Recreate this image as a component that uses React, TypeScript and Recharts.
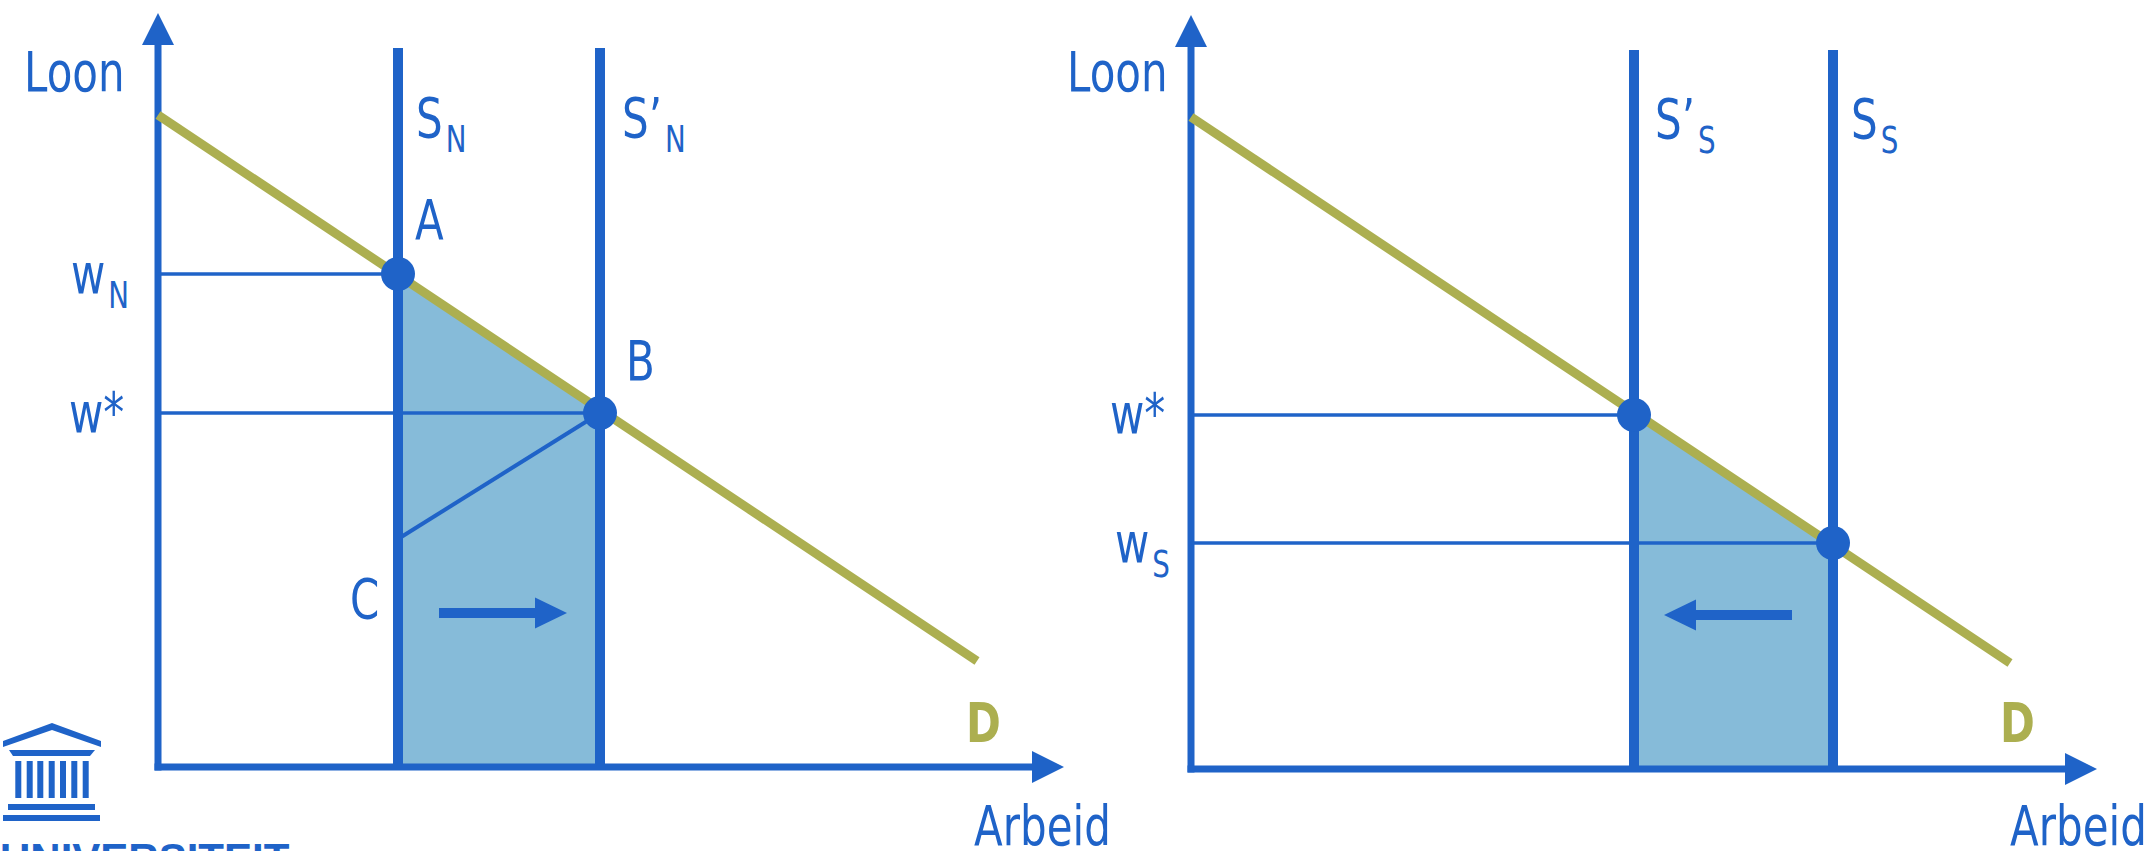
import React from 'react';
import {
  ComposedChart,
  XAxis,
  YAxis,
  Line,
  Area,
  ReferenceLine,
  ReferenceDot
} from 'recharts';

const BLUE = '#1f63c8';
const FILL = '#86bbd9';
const OLIVE = '#acaf50';
const FONT = "'DejaVu Sans', sans-serif";
const SQUEEZE = 0.75; // smalle letter zoals in het origineel

// vraaglijn D (arbeid, loon), gelijk in beide grafieken
const demandQ = [0, 81.9];
const demandW = [65.2, 10.6];

// Noord: aanbod schuift van S_N naar S'_N
const northSupplyQ = [24, 44.2];
const northWage = [49.3, 35.4]; // w_N, w*
const northCWage = 22.8;
const northShiftQ = [28.1, 40.9];

// Zuid: aanbod schuift van S_S naar S'_S
const southSupplyQ = [44.3, 64.2];
const southWage = [35.4, 22.6]; // w*, w_S
const southShiftQ = [60.1, 47.3];

const shiftW = 15.4;
const supplyTop = 71.9;
const axisTopW = 75.4;
const axisEndQ = 90.6;
const HEAD = 3.2;

type Lbl = { t: string; sub?: string; q: number; w: number; color?: string; bold?: boolean };

const arrowHead = (dir: 'up' | 'right' | 'left', len = 32, half = 16) => (props: any) => {
  const { cx, cy } = props;
  let pts = '';
  if (dir === 'up') pts = `${cx},${cy} ${cx - half},${cy + len} ${cx + half},${cy + len}`;
  else if (dir === 'right') pts = `${cx},${cy} ${cx - len},${cy - half} ${cx - len},${cy + half}`;
  else pts = `${cx},${cy} ${cx + len},${cy - half} ${cx + len},${cy + half}`;
  return <polygon points={pts} fill={BLUE} />;
};

const textShape = (l: Lbl) => (props: any) => (
  <text
    x={0}
    y={0}
    transform={`translate(${props.cx},${props.cy}) scale(${SQUEEZE},1)`}
    fill={l.color || BLUE}
    fontFamily={FONT}
    fontSize={56}
    fontWeight={l.bold ? 700 : 400}
  >
    {l.t}
    {l.sub && (
      <tspan fontSize={37} dx={4} dy={15}>
        {l.sub}
      </tspan>
    )}
  </text>
);

interface PanelProps {
  supplyQ: number[];
  wages: number[];
  cWage?: number;
  shiftQ: number[];
  labels: Lbl[];
  left: number;
  top: number;
}

const Panel: React.FC<PanelProps> = ({ supplyQ, wages, cWage, shiftQ, labels, left, top }) => {
  const demand = demandQ.map((q, i) => ({ q, w: demandW[i] }));
  const shaded = supplyQ.map((q, i) => ({ q, w: wages[i] }));
  const dir = shiftQ[1] > shiftQ[0] ? 1 : -1;

  return (
    <div style={{ position: 'absolute', left, top }}>
      <ComposedChart width={1158} height={851} margin={{ top: 0, right: 0, bottom: 0, left: 0 }}>
        <XAxis type="number" dataKey="q" domain={[-15.8, 100]} hide allowDataOverflow />
        <YAxis type="number" domain={[-8.4, 76.7]} hide allowDataOverflow />
        <Area
          data={shaded}
          dataKey="w"
          type="linear"
          stroke="none"
          fill={FILL}
          fillOpacity={1}
          baseValue={0}
          isAnimationActive={false}
        />
        {/* assen */}
        <ReferenceLine segment={[{ x: 0, y: -0.35 }, { x: 0, y: axisTopW - HEAD }]} stroke={BLUE} strokeWidth={7} />
        <ReferenceLine segment={[{ x: -0.35, y: 0 }, { x: axisEndQ - HEAD, y: 0 }]} stroke={BLUE} strokeWidth={7} />
        <ReferenceDot x={0} y={axisTopW} r={1} shape={arrowHead('up')} />
        <ReferenceDot x={axisEndQ} y={0} r={1} shape={arrowHead('right')} />

        {/* loonlijnen */}
        {wages.map((w, i) => (
          <ReferenceLine
            key={'w' + i}
            segment={[{ x: 0, y: w }, { x: supplyQ[i], y: w }]}
            stroke={BLUE}
            strokeWidth={3.5}
          />
        ))}
        {cWage !== undefined && (
          <ReferenceLine
            segment={[{ x: supplyQ[0], y: cWage }, { x: supplyQ[1], y: wages[1] }]}
            stroke={BLUE}
            strokeWidth={4}
          />
        )}

        {/* aanbodlijnen */}
        {supplyQ.map((q, i) => (
          <ReferenceLine
            key={'s' + i}
            segment={[{ x: q, y: 0 }, { x: q, y: supplyTop }]}
            stroke={BLUE}
            strokeWidth={10}
          />
        ))}

        <Line
          data={demand}
          dataKey="w"
          type="linear"
          stroke={OLIVE}
          strokeWidth={9}
          dot={false}
          activeDot={false}
          isAnimationActive={false}
        />

        {/* verschuivingspijl */}
        <ReferenceLine
          segment={[{ x: shiftQ[0], y: shiftW }, { x: shiftQ[1] - dir * HEAD, y: shiftW }]}
          stroke={BLUE}
          strokeWidth={10}
        />
        <ReferenceDot x={shiftQ[1]} y={shiftW} r={1} shape={arrowHead(dir > 0 ? 'right' : 'left', 32, 15.5)} />

        {supplyQ.map((q, i) => (
          <ReferenceDot key={'p' + i} x={q} y={wages[i]} r={17} fill={BLUE} stroke="none" />
        ))}

        {labels.map((l, i) => (
          <ReferenceDot key={'l' + i} x={l.q} y={l.w} r={1} shape={textShape(l)} />
        ))}
      </ComposedChart>
    </div>
  );
};

const Logo = () => (
  <svg width={320} height={140} style={{ position: 'absolute', left: 0, top: 711 }}>
    <g transform="translate(0,-711)" fill={BLUE}>
      <polygon points="3,741 52,723 101,741 101,747 52,730 3,747" />
      <polygon points="9,750 95,750 90,756 13,756" />
      {[18.3, 29.7, 40.3, 51.7, 63, 74.3, 85.7].map((x) => (
        <rect key={x} x={x - 3} y={761} width={6} height={37} />
      ))}
      <rect x={8} y={804} width={87} height={6} />
      <rect x={3} y={815} width={97} height={6} />
      <text x={0} y={873} fontFamily="'Liberation Sans', Arial, sans-serif" fontWeight={700} fontSize={42}>
        UNIVERSITEIT
      </text>
    </g>
  </svg>
);

export default function App() {
  return (
    <div
      style={{
        position: 'absolute',
        left: 0,
        top: 0,
        width: 2156,
        height: 851,
        overflow: 'hidden',
        background: '#fff'
      }}
    >
      <Panel
        left={0}
        top={0}
        supplyQ={northSupplyQ}
        wages={northWage}
        cWage={northCWage}
        shiftQ={northShiftQ}
        labels={[
          { t: 'Loon', q: -13.4, w: 67.6 },
          { t: 'w', sub: 'N', q: -8.7, w: 47.4 },
          { t: 'w*', q: -8.9, w: 33.5 },
          { t: 'S', sub: 'N', q: 25.8, w: 63.0 },
          { t: 'S’', sub: 'N', q: 46.4, w: 63.0 },
          { t: 'A', q: 25.7, w: 52.8 },
          { t: 'B', q: 46.8, w: 38.7 },
          { t: 'C', q: 19.2, w: 14.9 },
          { t: 'D', q: 80.8, w: 2.5, color: OLIVE, bold: true },
          { t: 'Arbeid', q: 81.6, w: -7.8 }
        ]}
      />
      <Panel
        left={1033}
        top={2}
        supplyQ={southSupplyQ}
        wages={southWage}
        shiftQ={southShiftQ}
        labels={[
          { t: 'Loon', q: -12.4, w: 67.8 },
          { t: 'w*', q: -8.1, w: 33.6 },
          { t: 'w', sub: 'S', q: -7.6, w: 20.7 },
          { t: 'S’', sub: 'S', q: 46.4, w: 63.1 },
          { t: 'S', sub: 'S', q: 66.0, w: 63.1 },
          { t: 'D', q: 80.9, w: 2.7, color: OLIVE, bold: true },
          { t: 'Arbeid', q: 81.9, w: -7.6 }
        ]}
      />
      <Logo />
    </div>
  );
}
